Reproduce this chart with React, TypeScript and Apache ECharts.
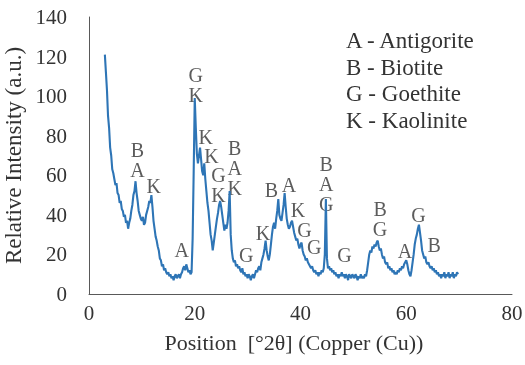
import React, { useEffect, useRef } from "react";
import * as echarts from "echarts";

// XRD scan: intensity sampled every 0.2° 2θ starting at 3.0°
const SCAN_START = 3.0;
const SCAN_STEP = 0.2;
const intensity: number[] = [
  121, 112, 103, 90, 84, 74, 70, 63, 61, 58,
  55, 56, 51, 50, 46, 47, 43, 42, 39, 40,
  36, 37, 33, 36, 38, 42, 45, 50, 52, 57,
  51, 47, 42, 40, 38, 37, 39, 35, 36, 40,
  42, 44, 47, 46, 50, 44, 37, 33, 29, 27,
  24, 22, 18, 17, 14, 15, 12, 13, 11, 10,
  11, 9, 10, 8, 9, 7, 9, 10, 8, 9,
  10, 8, 10, 11, 13, 14, 12, 15, 13, 11,
  12, 10, 11, 28, 62, 99, 84, 71, 66, 70,
  74, 68, 62, 60, 66, 58, 52, 46, 42, 36,
  30, 27, 22, 26, 30, 34, 38, 41, 45, 47,
  44, 40, 36, 32, 35, 33, 36, 42, 52, 30,
  22, 18, 16, 17, 14, 15, 13, 14, 12, 11,
  13, 10, 11, 9, 10, 8, 10, 9, 7, 9,
  10, 8, 10, 12, 11, 13, 14, 12, 16, 18,
  20, 23, 27, 22, 19, 17, 20, 25, 30, 34,
  36, 33, 38, 42, 48, 40, 38, 37, 41, 45,
  51, 44, 38, 35, 33, 34, 36, 37, 34, 31,
  29, 27, 28, 25, 23, 25, 26, 22, 20, 19,
  17, 18, 16, 15, 14, 13, 14, 12, 11, 12,
  10, 11, 9, 11, 10, 12, 11, 13, 20, 48,
  18, 13, 14, 12, 13, 11, 12, 10, 11, 9,
  10, 8, 10, 9, 11, 9, 10, 8, 10, 9,
  7, 10, 9, 8, 10, 9, 8, 10, 9, 7,
  9, 8, 10, 8, 9, 8, 10, 9, 12, 16,
  20, 22, 21, 24, 23, 25, 24, 26, 27, 24,
  22, 23, 20, 18, 19, 16, 15, 16, 13, 14,
  12, 13, 11, 12, 10, 11, 10, 12, 11, 13,
  12, 14, 13, 15, 16, 17, 15, 12, 10, 9,
  12, 16, 20, 25, 28, 30, 33, 35, 31, 27,
  22, 20, 18, 19, 16, 15, 16, 14, 13, 14,
  12, 13, 11, 12, 10, 11, 9, 10, 8, 10,
  9, 11, 8, 10, 9, 11, 8, 10, 9, 11,
  8, 10, 9, 11, 10,
];

// Phase identification letters (stacked where several phases share a peak):
// [2θ, intensity at the centre of the label, letters]
const peakLabels: [number, number, string][] = [
  [9.15, 67.5, "B\nA"], [12.26, 54.6, "K"],
  [17.55, 22.2, "A"],
  [20.19, 105.6, "G\nK"],
  [22.08, 79.3, "K"], [23.15, 69.8, "K"],
  [24.5, 55.0, "G\nK"],
  [27.55, 63.9, "B\nA\nK"],
  [29.75, 19.7, "G"], [32.9, 30.7, "K"],
  [34.5, 52.6, "B"], [37.8, 55.1, "A"], [39.5, 42.4, "K"],
  [40.75, 32.3, "G"], [42.6, 23.9, "G"],
  [44.85, 55.4, "B\nA\nG"],
  [48.3, 19.7, "G"],
  [55.05, 38.0, "B\nG"],
  [59.75, 21.7, "A"], [62.3, 39.9, "G"], [65.3, 24.8, "B"],
];

const legendLines = [
  "A - Antigorite",
  "B - Biotite",
  "G - Goethite",
  "K - Kaolinite",
];

const X_TICKS = { min: 0, max: 80, interval: 20 };
const Y_TICKS = { min: 0, max: 140, interval: 20 };

const FONT = "Liberation Serif";
const TEXT_COLOR = "#333333";
const AXIS_COLOR = "#595959";
const LINE_COLOR = "#2e75b6";

export default function App() {
  const ref = useRef<HTMLDivElement>(null);

  useEffect(() => {
    if (!ref.current) return;
    const chart = echarts.init(ref.current, undefined, { renderer: "svg" });

    const scan = intensity.map((v, i) => [
      +(SCAN_START + i * SCAN_STEP).toFixed(2),
      v,
    ]);

    chart.setOption({
      animation: false,
      textStyle: { fontFamily: FONT },
      grid: {
        left: 89,
        right: 13,
        top: 17,
        bottom: 71,
        containLabel: false,
        outerBoundsMode: "none",
      },
      xAxis: {
        type: "value",
        ...X_TICKS,
        name: "Position  [°2θ] (Copper (Cu))",
        nameLocation: "middle",
        nameGap: 37,
        nameTextStyle: {
          fontFamily: FONT,
          fontSize: 22,
          color: TEXT_COLOR,
          padding: [0, 13, 0, 0],
        },
        axisLine: { show: true, lineStyle: { color: AXIS_COLOR, width: 1 } },
        axisTick: { show: false },
        splitLine: { show: false },
        axisLabel: { fontFamily: FONT, fontSize: 21, color: TEXT_COLOR, margin: 8 },
      },
      yAxis: {
        type: "value",
        ...Y_TICKS,
        name: "Relative Intensity (a.u.)",
        nameLocation: "middle",
        nameGap: 52,
        nameTextStyle: { fontFamily: FONT, fontSize: 23, color: TEXT_COLOR },
        axisLine: { show: true, lineStyle: { color: AXIS_COLOR, width: 1 } },
        axisTick: { show: false },
        splitLine: { show: false },
        axisLabel: { fontFamily: FONT, fontSize: 21, color: TEXT_COLOR, margin: 22 },
      },
      series: [
        {
          type: "line",
          data: scan,
          symbol: "none",
          lineStyle: { color: LINE_COLOR, width: 2.1 },
        },
        {
          type: "scatter",
          data: peakLabels.map(([x, y, t]) => ({ value: [x, y], name: t })),
          symbolSize: 1,
          itemStyle: { color: "rgba(0,0,0,0)" },
          label: {
            show: true,
            position: "inside",
            formatter: (p: any) => p.name,
            fontFamily: FONT,
            fontSize: 20,
            lineHeight: 20,
            color: TEXT_COLOR,
          },
          silent: true,
        },
      ],
      graphic: [
        {
          type: "text",
          left: 346,
          top: 27,
          style: {
            text: legendLines.join("\n"),
            fontFamily: FONT,
            fontSize: 23,
            lineHeight: 26.7,
            fill: TEXT_COLOR,
          },
        },
      ],
    });

    return () => chart.dispose();
  }, []);

  return (
    <div
      ref={ref}
      style={{ position: "fixed", left: 0, top: 0, width: 525, height: 365 }}
    />
  );
}
